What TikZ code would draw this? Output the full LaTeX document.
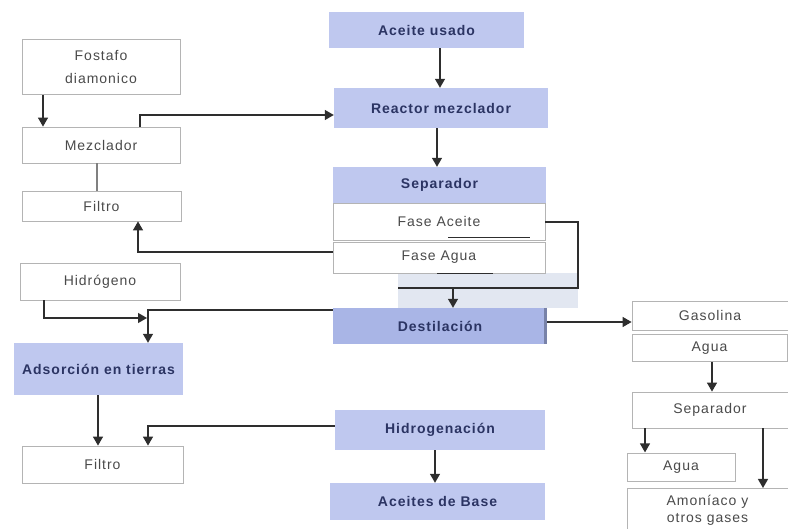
\documentclass[tikz,border=0pt]{standalone}
\usepackage{fontspec}
\setmainfont{Liberation Sans}[LetterSpace=7]
\usetikzlibrary{arrows.meta}

\definecolor{boxblue}{HTML}{BFC8EF}
\definecolor{boxblueD}{HTML}{A9B5E6}
\definecolor{edgeblue}{HTML}{7882A8}
\definecolor{bandgray}{HTML}{E2E7F1}
\definecolor{edgegray}{HTML}{B4B4B4}
\definecolor{txtgray}{HTML}{4A4A4A}
\definecolor{txtnavy}{HTML}{2B3463}
\definecolor{linegray}{HTML}{2E2E2E}

\tikzset{
  basebox/.style={rectangle, inner sep=0pt, align=center,
    font=\fontsize{14}{21}\selectfont},
  whitebox/.style={basebox, draw=edgegray, line width=0.8pt, fill=white,
    text=txtgray},
  bluebox/.style={basebox, fill=boxblue, text=txtnavy,
    font=\fontsize{14}{21}\selectfont\bfseries},
  sz/.style 2 args={minimum width=#1pt, minimum height=#2pt},
  conn/.style={draw=linegray, line width=1.3pt},
  arr/.style={conn, -{Triangle[length=9pt,width=10pt]}},
}

\begin{document}
\begin{tikzpicture}[x=1pt,y=-1pt]
\useasboundingbox (0,0) rectangle (788,529);

% shaded band under the separator phases
\fill[bandgray] (398,273) rectangle (578,308);

% central column
\node[bluebox, sz={195}{36}] (aceite) at (426.5,30) {Aceite usado};
\node[bluebox, sz={214}{40}] (reactor) at (441,108) {Reactor mezclador};
\node[bluebox, sz={213}{36}] (sep) at (439.5,185) {Separador};
\node[whitebox, sz={212}{37}] (faceite) at (439,221.5) {Fase Aceite};
\node[whitebox, sz={212}{31}] (faagua) at (439,257.5) {Fase Agua};
\node[bluebox, fill=boxblueD, sz={214}{36}] (destil) at (440,326) {Destilación};
\node[bluebox, sz={210}{40}] (hidrogen) at (440,430) {Hidrogenación};
\node[bluebox, sz={215}{37}] (bases) at (437.5,501.5) {Aceites de Base};

% darker edge on the right of the distillation box
\draw[draw=edgeblue, line width=3pt] (545,308) -- (545,344);

% left column
\node[whitebox, sz={158}{55}, font=\fontsize{14}{23}\selectfont] (fosfato) at (101,67) {Fostafo\\diamonico};
\node[whitebox, sz={158}{36}] (mezcl) at (101,145) {Mezclador};
\node[whitebox, sz={159}{30}] (filtro1) at (101.5,206) {Filtro};
\node[whitebox, sz={160}{37}] (hidro) at (100,281.5) {Hidrógeno};
\node[bluebox, sz={169}{52}] (adsor) at (98.5,369) {Adsorción en tierras};
\node[whitebox, sz={161}{37}] (filtro2) at (102.5,464.5) {Filtro};

% right column
\node[whitebox, sz={156}{29}] (gasol) at (710,315.5) {Gasolina};
\node[whitebox, sz={155}{27}] (agua1) at (709.5,348) {Agua};
\node[whitebox, sz={156}{36}] (sepR) at (710,410) {Separador};
\node[whitebox, sz={108}{28}] (agua2) at (681,467) {Agua};
\node[whitebox, sz={161}{44}, anchor=north, font=\fontsize{14}{17}\selectfont] (amon) at (707.5,488) {Amoníaco y\\otros gases};

% short dark strokes under the phase boxes
\draw[conn, line width=1pt] (448,238) -- (530,238);
\draw[conn, line width=1pt] (437,274) -- (493,274);

% central flow
\draw[arr] ([xshift=13.5pt]aceite.south) -- ([xshift=13.5pt]aceite.south |- reactor.north);
\draw[arr] ([xshift=-4pt]reactor.south) -- ([xshift=-4pt]reactor.south |- sep.north);

% oil phase loop back down to distillation
\coordinate (loopR) at (578,288);
\coordinate (loopL) at (398,288);
\coordinate (drop) at (453,288);
\draw[conn] ([yshift=-0.5pt]faceite.east) -| (loopR) -- (loopL);
\draw[arr] (drop) -- (drop |- destil.north);

% left column flows
\draw[arr] ([xshift=-58pt]fosfato.south) -- ([xshift=-58pt]fosfato.south |- mezcl.north);
\draw[arr] ([xshift=39pt]mezcl.north) |- ([yshift=-7pt]reactor.west);
\draw[conn, draw=gray] ([xshift=-4pt]mezcl.south) -- ([xshift=-4pt]mezcl.south |- filtro1.north);
\draw[arr] ([yshift=5.5pt]faagua.west) -| ([xshift=36.5pt]filtro1.south);

\coordinate (tipH) at (147,318);
\draw[arr] ([xshift=-56pt]hidro.south) |- (tipH);
\draw[arr] ([yshift=16pt]destil.west) -| ([xshift=49.5pt]adsor.north);
\draw[arr] ([xshift=-0.5pt]adsor.south) -- ([xshift=-0.5pt]adsor.south |- filtro2.north);
\draw[arr] ([yshift=4pt]hidrogen.west) -| ([xshift=45.5pt]filtro2.north);
\draw[arr] ([xshift=-5pt]hidrogen.south) -- ([xshift=-5pt]hidrogen.south |- bases.north);

% right column flows
\draw[arr] ([yshift=4pt]destil.east) -- ([yshift=4pt]destil.east -| gasol.west);
\draw[arr] ([xshift=2.5pt]agua1.south) -- ([xshift=2.5pt]agua1.south |- sepR.north);
\draw[arr] ([xshift=-65pt]sepR.south) -- ([xshift=-65pt,yshift=-24pt]sepR.south);
\draw[arr] ([xshift=53pt]sepR.south) -- ([xshift=53pt]sepR.south |- amon.north);
\end{tikzpicture}
\end{document}
